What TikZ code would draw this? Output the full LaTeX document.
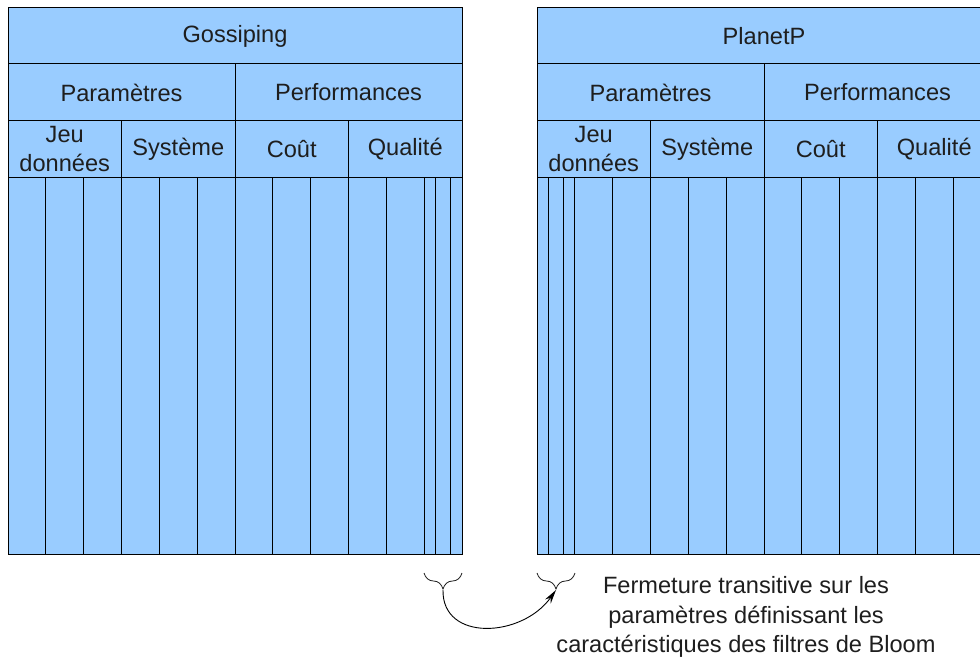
\documentclass[tikz,border=0pt]{standalone}
\usepackage{fontspec}
\setmainfont{Liberation Sans}
\usetikzlibrary{decorations.pathreplacing,arrows.meta}
\definecolor{cellblue}{HTML}{99CCFF}
\definecolor{ink}{HTML}{1E1E1E}
\tikzset{
  grid line/.style={line width=0.9pt, draw=black},
  cell text/.style={text=ink, inner sep=0pt, align=center,
    font=\fontsize{23.6}{29}\selectfont},
  note text/.style={text=ink, inner sep=0pt, align=center,
    font=\fontsize{23.6}{29.5}\selectfont},
  brace line/.style={draw=ink, line width=0.8pt,
    decorate, decoration={brace, mirror, amplitude=16pt, aspect=0.5}},
  link/.style={draw=black, line width=0.9pt,
    -{Stealth[length=14pt, width=7pt]}}
}
% one parameter/performance table: #1 = left x, #2 = name prefix, #3 = title
\newcommand{\perftable}[3]{%
  \pgfmathsetmacro{\w}{454/12}
  \fill[cellblue] (#1,7) rectangle ++(454,547);
  \draw[grid line] (#1,7) rectangle ++(454,547);
  \foreach \yy in {63,120,177} \draw[grid line] (#1,\yy) -- ++(454,0);
  \draw[grid line] (#1+227,63) -- (#1+227,554);
  \foreach \xx in {113.5,340.5} \draw[grid line] (#1+\xx,120) -- (#1+\xx,554);
  \foreach \k in {1,...,11} \draw[grid line] (#1+\k*\w,177) -- (#1+\k*\w,554);
  \node[cell text] (#2-title) at (#1+227,36) {#3};
  \node[cell text] (#2-param) at (#1+113.5,92.5) {Paramètres};
  \node[cell text] (#2-perf)  at (#1+340.5,92.5) {Performances};
  \node[cell text] (#2-jeu)   at (#1+56.75,149) {Jeu\\données};
  \node[cell text] (#2-sys)   at (#1+170.25,149.5) {Système};
  \node[cell text] (#2-cout)  at (#1+283.75,149.5) {Coût};
  \node[cell text] (#2-qual)  at (#1+397.25,149.5) {Qualité};
}
\begin{document}
\begin{tikzpicture}[x=1pt, y=-1pt]
  \clip (0,0) rectangle (980,662);

  % Gossiping table, last column split in three
  \perftable{8}{g}{Gossiping}
  \draw[grid line] (435.4,177) -- (435.4,554);
  \draw[grid line] (450.7,177) -- (450.7,554);

  % PlanetP table, first column split in three
  \perftable{537}{p}{PlanetP}
  \draw[grid line] (548.5,177) -- (548.5,554);
  \draw[grid line] (563.8,177) -- (563.8,554);

  % braces under the split columns
  \coordinate (gb-l) at (424,573);
  \coordinate (gb-r) at (462,573);
  \coordinate (pb-l) at (537,573);
  \coordinate (pb-r) at (575,573);
  \coordinate (g-tip) at (443,590);
  \coordinate (p-tip) at (556,590);
  \draw[brace line] (gb-l) -- (gb-r);
  \draw[brace line] (pb-l) -- (pb-r);

  % transitive closure link
  \draw[link] (g-tip) .. controls (442,642) and (522,638) .. (p-tip);

  \node[note text] (note) at (746,617)
    {Fermeture transitive sur les\\paramètres définissant les\\caractéristiques des filtres de Bloom};
\end{tikzpicture}
\end{document}
